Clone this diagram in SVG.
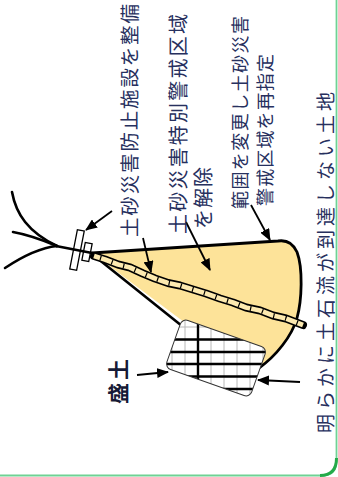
<svg xmlns="http://www.w3.org/2000/svg" width="338" height="477" viewBox="0 0 338 477">
  <style>
    .lbl { font-family: "Noto Sans CJK JP", "Noto Sans", sans-serif; fill: #27305e; dominant-baseline: central; }
    .ink { fill: none; stroke: #000; stroke-linecap: round; stroke-linejoin: round; }
    .arw { fill: none; stroke: #000; stroke-width: 1.8; marker-end: url(#ah); }
    .thin { stroke: #b8b8b8; stroke-width: 1; }
    .thick { stroke: #000; stroke-width: 2.4; }
  </style>
  <defs>
    <marker id="ah" viewBox="0 0 12 10" refX="11" refY="5" markerWidth="12" markerHeight="10" markerUnits="userSpaceOnUse" orient="auto">
      <path d="M0,0 L12,5 L0,10 Z" fill="#000"/>
    </marker>
    <clipPath id="fillClip">
      <rect x="171" y="332" width="90" height="52" rx="6" transform="rotate(19.5 216 358)"/>
    </clipPath>
  </defs>

  <rect width="338" height="477" fill="#fff"/>

  <!-- frame -->
  <g id="frame">
    <path d="M336.5 0 L336.5 461 Q336.5 475.5 322 475.5 L0 475.5" fill="none" stroke="#6fd294" stroke-width="1.8"/>
    <path d="M336.5 458 Q336.5 475.5 320 475.5" fill="none" stroke="#25aa4a" stroke-width="3"/>
  </g>

  <!-- upstream channels -->
  <g id="streams">
    <path class="ink" stroke-width="2.6" d="M12 192 C16 214 28 232 57 246"/>
    <path class="ink" stroke-width="2.6" d="M13 232 C30 235 45 241 57 246"/>
    <path class="ink" stroke-width="2.6" d="M5 268 C20 258 38 248 57 246"/>
  </g>

  <!-- debris fan -->
  <g id="fan">
    <path d="M92 253 L278 241 Q291 239 297 252 C303 268 302 300 297 318 C292 336 276 356 259 368 L184 322 Z" fill="#fde399"/>
    <path class="ink" stroke-width="2.8" d="M92 253 L278 241 Q291 239 297 252 C303 268 302 300 297 318 C292 336 276 356 259 368"/>
    <path class="ink" stroke-width="2.6" d="M92 254 L182 326"/>
  </g>

  <!-- stream bed through the fan -->
  <g id="channel">
    <path class="ink" stroke-width="8" d="M94 256 L105 259.5 L118 264.5 L130 267.5 L143 273.5 L155 278.5 L168 283 L180 285.5 L193 289.5 L206 293.5 L220 298.5 L233 302.5 L246 307.5 L260 310.5 L273 315.5 L286 318.5 L303 325"/>
    <path fill="none" stroke="#fdeab0" stroke-width="4.8" stroke-linejoin="round" d="M94 256 L105 259.5 L118 264.5 L130 267.5 L143 273.5 L155 278.5 L168 283 L180 285.5 L193 289.5 L206 293.5 L220 298.5 L233 302.5 L246 307.5 L260 310.5 L273 315.5 L286 318.5 L303 325"/>
    <path fill="none" stroke="#000" stroke-width="5" stroke-dasharray="1.2 11" d="M100 258 L105 259.5 L118 264.5 L130 267.5 L143 273.5 L155 278.5 L168 283 L180 285.5 L193 289.5 L206 293.5 L220 298.5 L233 302.5 L246 307.5 L260 310.5 L273 315.5 L286 318.5 L300 324"/>
  </g>

  <!-- check dam -->
  <g id="dam">
    <rect x="73.5" y="230" width="7" height="40" fill="#fff" stroke="#000" stroke-width="1.3" transform="rotate(11 77 250)"/>
    <rect x="83.5" y="243" width="7" height="18" fill="#fff" stroke="#000" stroke-width="1.3" transform="rotate(11 87 252)"/>
    <path class="ink" stroke-width="2.6" d="M56 246 L92 253"/>
  </g>

  <!-- embankment (盛土) -->
  <g id="embankment">
    <rect x="171" y="332" width="90" height="52" rx="6" fill="#fff" transform="rotate(19.5 216 358)"/>
    <g clip-path="url(#fillClip)">
      <path class="thin" d="M172 300 V420 M185 300 V420 M211 300 V420 M224 300 V420 M237 300 V420 M250 300 V420 M263 300 V420 M150 327 H290"/>
      <path class="thick" d="M198 300 V420 M150 339.5 H290 M150 352 H290 M150 364 H290 M150 376.5 H290 M150 389 H290"/>
    </g>
    <rect x="171" y="332" width="90" height="52" rx="6" fill="none" stroke="#333" stroke-width="1" transform="rotate(19.5 216 358)"/>
  </g>

  <!-- leader arrows -->
  <g id="connectors">
    <line class="arw" x1="112" y1="211" x2="86" y2="230"/>
    <line class="arw" x1="143" y1="238" x2="151" y2="272"/>
    <line class="arw" x1="186" y1="222" x2="210" y2="270"/>
    <line class="arw" x1="251" y1="205" x2="270" y2="240"/>
    <line class="arw" x1="137" y1="375" x2="168" y2="372"/>
    <line class="arw" x1="300" y1="382" x2="258" y2="380"/>
  </g>

  <!-- labels (set sideways, reading upward) -->
  <g id="label-facility">
    <text class="lbl" font-size="19.5" x="0" y="0" textLength="233" lengthAdjust="spacing" transform="translate(128 237) rotate(-90)">土砂災害防止施設を整備</text>
  </g>
  <g id="label-special-zone">
    <text class="lbl" font-size="20" x="0" y="0" textLength="220" lengthAdjust="spacing" transform="translate(177 234) rotate(-90)">土砂災害特別警戒区域</text>
    <text class="lbl" font-size="20" x="0" y="0" textLength="62" lengthAdjust="spacing" transform="translate(202 229) rotate(-90)">を解除</text>
  </g>
  <g id="label-rezone">
    <text class="lbl" font-size="18" x="0" y="0" textLength="193" lengthAdjust="spacing" transform="translate(239 209) rotate(-90)">範囲を変更し土砂災害</text>
    <text class="lbl" font-size="18" x="0" y="0" textLength="152" lengthAdjust="spacing" transform="translate(264 206) rotate(-90)">警戒区域を再指定</text>
  </g>
  <g id="label-safe-land">
    <text class="lbl" font-size="19" x="0" y="0" textLength="341" lengthAdjust="spacing" transform="translate(324 433) rotate(-90)">明らかに土石流が到達しない土地</text>
  </g>
  <g id="label-fill">
    <text class="lbl" font-size="21" font-weight="bold" fill="#161a36" style="fill:#161a36" x="0" y="0" textLength="45" lengthAdjust="spacing" transform="translate(117 404) rotate(-90)">盛土</text>
  </g>
</svg>
